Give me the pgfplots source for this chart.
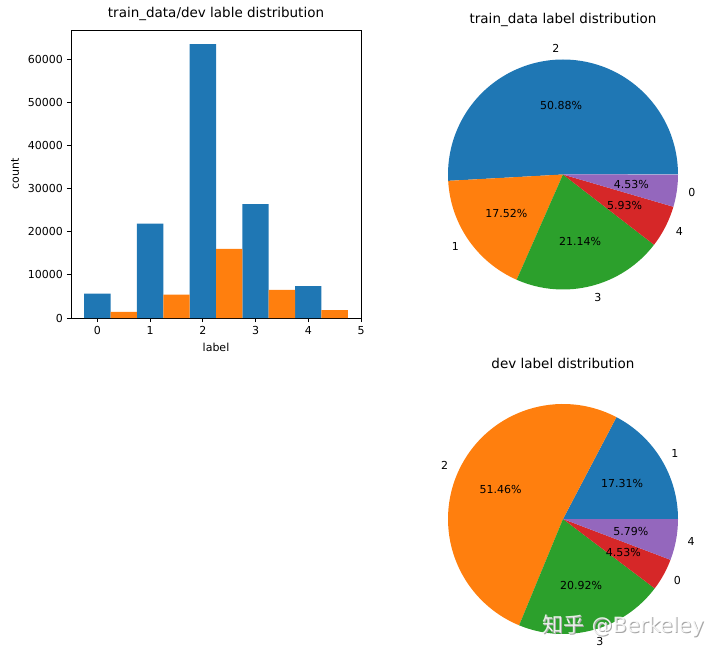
\documentclass[border=0pt]{standalone}
\usepackage{pgfplots}
\pgfplotsset{compat=1.18}
\usepackage{fontspec}
\setmainfont{DejaVu Sans}
\newfontfamily\cjk{Noto Sans CJK SC}
\definecolor{c0}{HTML}{1F77B4}
\definecolor{c1}{HTML}{FF7F0E}
\definecolor{c2}{HTML}{2CA02C}
\definecolor{c3}{HTML}{D62728}
\definecolor{c4}{HTML}{9467BD}
\newcommand{\fs}{\fontsize{11}{13}\selectfont}
\newcommand{\ft}{\fontsize{13.5}{16}\selectfont}
% \slice{start %}{end %}{colour}{label}{anchor of label}{percent text}
\newcommand{\slice}[6]{%
  \fill[#3] (0,0) -- ({cos(3.6*#1)},{sin(3.6*#1)}) arc[start angle={3.6*#1}, end angle={3.6*#2}, radius=115pt] -- cycle;
  \node[anchor=#5, inner sep=0pt, font=\fs] at ({1.1*cos(1.8*(#1+#2))},{1.1*sin(1.8*(#1+#2))}) {#4};
  \node[anchor=center, inner sep=0pt, font=\fs] at ({0.6*cos(1.8*(#1+#2))},{0.6*sin(1.8*(#1+#2))}) {#6};
}
\pgfplotsset{
  pieaxis/.style={
    scale only axis, x=115pt, y=115pt,
    xmin=-1.25, xmax=1.25, ymin=-1.25, ymax=1.25,
    hide axis, anchor=center, clip=false,
  }
}
\begin{document}
\begin{tikzpicture}[x=1pt,y=1pt]
\useasboundingbox (0,0) rectangle (720,657);
\begin{axis}[
  at={(71pt,339pt)}, anchor=south west,
  scale only axis, width=290pt, height=288pt,
  xmin=-0.5, xmax=5.0, ymin=0, ymax=66780, clip=false,
  xtick={0,1,2,3,4,5}, ytick={0,10000,20000,30000,40000,50000,60000},
  scaled y ticks=false,
  /pgf/number format/assume math mode=true,
  yticklabel={\pgfmathprintnumber[fixed,1000 sep={}]{\tick}},
  tick align=outside, major tick length=4pt, tick pos=left,
  every tick/.style={black, line width=0.8pt},
  axis line style={line width=0.8pt},
  tick label style={font=\fs},
  xticklabel style={inner sep=0pt, anchor=north, yshift=-4pt},
  yticklabel style={inner sep=0pt, anchor=east, xshift=-4pt},
  xlabel={label},
  label style={font=\fs},
  xlabel style={at={(axis description cs:0.5,0)}, anchor=center, yshift=-29pt, inner sep=0pt},
  title={train\_data/dev lable distribution},
  title style={font=\ft, anchor=base, at={(axis description cs:0.5,1)}, yshift=6pt},
]
\addplot[ybar, bar width=0.5, bar shift=0pt, fill=c0, draw=none] coordinates {
  (0,5654) (1,21866) (2,63500) (3,26383) (4,7401)};
\addplot[ybar, bar width=0.5, bar shift=0pt, fill=c1, draw=none] coordinates {
  (0.5,1413) (1.5,5400) (2.5,16054) (3.5,6526) (4.5,1806)};
\node[rotate=90, anchor=center, inner sep=0pt, font=\fs] at (axis description cs:-0.193,0.5) {count};
\end{axis}

% train pie
\begin{axis}[pieaxis, at={(563pt,482.5pt)}]
\slice{0}{50.88}{c0}{2}{east}{50.88\%}
\slice{50.88}{68.40}{c1}{1}{east}{17.52\%}
\slice{68.40}{89.54}{c2}{3}{west}{21.14\%}
\slice{89.54}{95.47}{c3}{4}{west}{5.93\%}
\slice{95.47}{100}{c4}{0}{west}{4.53\%}
\node[anchor=base, inner sep=0pt, font=\ft] at (0,{150.5/115}) {train\_data label distribution};
\end{axis}

% dev pie
\begin{axis}[pieaxis, at={(563pt,138pt)}]
\slice{0}{17.31}{c0}{1}{west}{17.31\%}
\slice{17.31}{68.77}{c1}{2}{east}{51.46\%}
\slice{68.77}{89.69}{c2}{3}{west}{20.92\%}
\slice{89.69}{94.22}{c3}{0}{west}{4.53\%}
\slice{94.22}{100}{c4}{4}{west}{5.79\%}
\node[anchor=base, inner sep=0pt, font=\ft] at (0,{151/115}) {dev label distribution};
\end{axis}

% watermark
\node[text=black!35, font=\fontsize{21}{24}\selectfont, inner sep=0pt] at (624.5,30) {{\cjk 知乎} @Berkeley};
\node[text=white, opacity=0.85, font=\fontsize{21}{24}\selectfont, inner sep=0pt] at (623.5,31) {{\cjk 知乎} @Berkeley};
\end{tikzpicture}
\end{document}
